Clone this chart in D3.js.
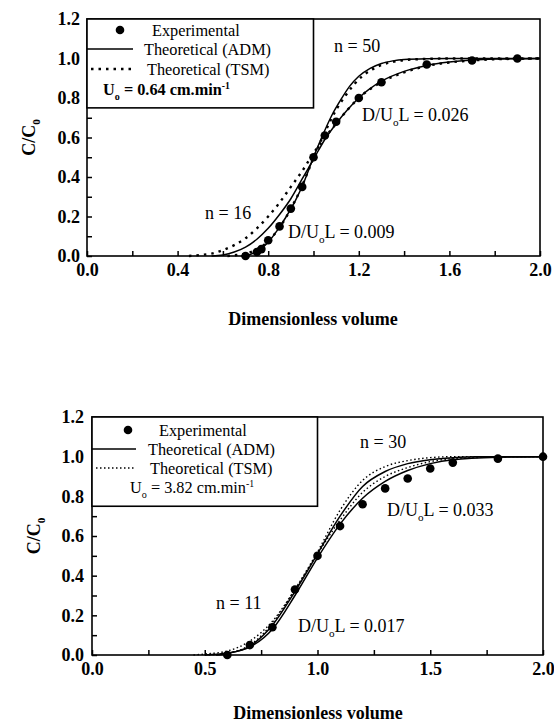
<!DOCTYPE html>
<html><head><meta charset="utf-8">
<script src="https://cdn.jsdelivr.net/npm/d3@7"></script>
<style>
html,body{margin:0;padding:0;background:#fff;}
svg{display:block;}
text{font-family:"Liberation Serif","Times New Roman",serif;fill:#000;}
</style></head>
<body><svg id="c" width="554" height="723"></svg>
<script>
// ---------- data: top panel (U0 = 0.64 cm/min) ----------
const topExpX = [0.70,0.75,0.77,0.80,0.85,0.90,0.95,1.00,1.05,1.10,1.20,1.30,1.50,1.70,1.90];
const topExpY = [0.00,0.02,0.035,0.08,0.15,0.24,0.35,0.50,0.61,0.68,0.80,0.88,0.97,0.99,1.00];
// ADM D/U0L = 0.026
const topAdmAX = [0.55,0.60,0.65,0.70,0.75,0.80,0.85,0.90,0.95,1.00,1.05,1.10,1.15,1.20,1.30,1.40,1.50,1.60,1.70,1.80,2.00];
const topAdmAY = [0.00,0.005,0.02,0.045,0.085,0.14,0.21,0.29,0.39,0.49,0.59,0.67,0.74,0.80,0.885,0.935,0.965,0.982,0.992,0.997,1.00];
// ADM D/U0L = 0.009
const topAdmBX = [0.68,0.72,0.76,0.80,0.84,0.88,0.92,0.96,1.00,1.04,1.08,1.12,1.16,1.20,1.25,1.30,1.35,1.40,1.50,1.60,2.00];
const topAdmBY = [0.00,0.008,0.03,0.07,0.13,0.20,0.28,0.38,0.50,0.61,0.71,0.79,0.86,0.91,0.95,0.975,0.988,0.995,0.999,1.00,1.00];
// TSM n = 16
const topTsmAX = [0.45,0.50,0.55,0.60,0.65,0.70,0.75,0.80,0.85,0.90,0.95,1.00,1.05,1.10,1.15,1.20,1.30,1.40,1.50,1.60,1.70,1.80,2.00];
const topTsmAY = [0.00,0.005,0.012,0.03,0.055,0.09,0.14,0.20,0.27,0.35,0.43,0.52,0.60,0.67,0.74,0.80,0.88,0.93,0.962,0.98,0.99,0.996,1.00];
// TSM n = 50
const topTsmBX = [0.62,0.66,0.70,0.74,0.78,0.82,0.86,0.90,0.94,0.98,1.02,1.06,1.10,1.14,1.18,1.22,1.26,1.30,1.35,1.40,1.50,1.60,2.00];
const topTsmBY = [0.00,0.005,0.012,0.028,0.055,0.10,0.16,0.24,0.33,0.44,0.55,0.65,0.74,0.81,0.87,0.915,0.945,0.967,0.983,0.992,0.998,1.00,1.00];

// ---------- data: bottom panel (U0 = 3.82 cm/min) ----------
const botExpX = [0.60,0.70,0.80,0.90,1.00,1.10,1.20,1.30,1.40,1.50,1.60,1.80,2.00];
const botExpY = [0.00,0.05,0.14,0.33,0.50,0.65,0.76,0.84,0.89,0.94,0.97,0.99,1.00];
// ADM D/U0L = 0.017
const botAdmAX = [0.55,0.60,0.70,0.80,0.90,1.00,1.10,1.20,1.30,1.40,1.50,1.60,1.70,2.00];
const botAdmAY = [0.00,0.008,0.045,0.15,0.32,0.51,0.70,0.85,0.925,0.965,0.985,0.995,1.00,1.00];
// ADM D/U0L = 0.033
const botAdmBX = [0.50,0.60,0.70,0.80,0.90,1.00,1.10,1.20,1.30,1.40,1.50,1.60,1.80,2.00];
const botAdmBY = [0.00,0.01,0.04,0.13,0.30,0.49,0.66,0.79,0.875,0.93,0.965,0.985,0.997,1.00];
// TSM n = 30
const botTsmAX = [0.50,0.60,0.70,0.80,0.90,1.00,1.10,1.20,1.30,1.40,1.50,1.60,2.00];
const botTsmAY = [0.00,0.01,0.05,0.16,0.33,0.52,0.73,0.88,0.95,0.98,0.995,1.00,1.00];
// TSM n = 11
const botTsmBX = [0.45,0.50,0.60,0.70,0.80,0.90,1.00,1.10,1.20,1.30,1.40,1.50,1.60,1.80,2.00];
const botTsmBY = [0.00,0.005,0.02,0.07,0.17,0.33,0.51,0.68,0.82,0.90,0.945,0.975,0.99,0.998,1.00];

// ---------- ticks ----------
const yTicks = [0,0.1,0.2,0.3,0.4,0.5,0.6,0.7,0.8,0.9,1.0,1.1,1.2];
const yLabels = [0,0.2,0.4,0.6,0.8,1.0,1.2];
const topXTicks = [0,0.2,0.4,0.6,0.8,1.0,1.2,1.4,1.6,1.8,2.0];
const topXLabels = [0,0.4,0.8,1.2,1.6,2.0];
const botXTicks = [0,0.25,0.5,0.75,1.0,1.25,1.5,1.75,2.0];
const botXLabels = [0,0.5,1.0,1.5,2.0];

const svg = d3.select("#c");
const zip = (xs, ys) => xs.map((x,i)=>[x, ys[i]]);

function rich(g, x, y, parts, opts) {
  const t = g.append("text").attr("x", x).attr("y", y)
    .attr("font-size", opts.size).attr("font-weight", opts.weight || "normal")
    .attr("text-anchor", opts.anchor || "start");
  if (opts.rotate) t.attr("transform", `rotate(-90,${x},${y})`);
  let shift = 0;
  parts.forEach(p => {
    const s = t.append("tspan").text(p.t);
    let target = 0;
    if (p.sub) { target = opts.size*0.3; s.attr("font-size", opts.size*0.62); }
    if (p.sup) { target = -opts.size*0.35; s.attr("font-size", opts.size*0.6); }
    if (target !== shift) { s.attr("dy", target - shift); shift = target; }
  });
  return t;
}

function panel(cfg) {
  const x = d3.scaleLinear().domain([0,2]).range([cfg.left, cfg.right]);
  const y = d3.scaleLinear().domain([0,1.2]).range([cfg.bottom, cfg.top]);
  const g = svg.append("g");

  // axes
  const xa = d3.axisBottom(x).tickValues(cfg.xTicks).tickSize(-5).tickSizeOuter(0).tickPadding(7)
    .tickFormat(d => cfg.xLabels.some(v=>Math.abs(v-d)<1e-9) ? d3.format(".1f")(d) : "");
  const gx = g.append("g").attr("transform", `translate(0,${cfg.bottom})`).call(xa);
  const ya = d3.axisLeft(y).tickValues(yTicks).tickSize(-5).tickSizeOuter(0).tickPadding(cfg.yPad)
    .tickFormat(d => yLabels.some(v=>Math.abs(v-d)<1e-9) ? d3.format(".1f")(d) : "");
  const gy = g.append("g").attr("transform", `translate(${cfg.left},0)`).call(ya);
  [gx, gy].forEach(a => {
    a.select(".domain").remove();
    a.selectAll("line").attr("stroke", "#000").attr("stroke-width", 1.5);
    a.selectAll("text").attr("font-size", 18).attr("font-weight", "bold")
      .attr("font-family", '"Liberation Serif","Times New Roman",serif').attr("fill", "#000");
  });

  // frame
  g.append("rect").attr("x", cfg.left).attr("y", cfg.top)
    .attr("width", cfg.right - cfg.left).attr("height", cfg.bottom - cfg.top)
    .attr("fill", "none").attr("stroke", "#000").attr("stroke-width", 1.6);

  const line = d3.line().x(d=>x(d[0])).y(d=>y(d[1])).curve(d3.curveMonotoneX);
  cfg.solid.forEach(s => g.append("path").attr("d", line(s)).attr("fill","none")
    .attr("stroke","#000").attr("stroke-width",1.5));
  cfg.dotted.forEach(s => g.append("path").attr("d", line(s)).attr("fill","none")
    .attr("stroke","#000").attr("stroke-width",cfg.dotW).attr("stroke-dasharray",cfg.dash));

  g.selectAll("circle.exp").data(cfg.exp).join("circle").attr("class","exp")
    .attr("cx", d=>x(d[0])).attr("cy", d=>y(d[1])).attr("r", 4.3).attr("fill","#000");

  // legend
  const lx0 = x(0), lx1 = x(1.0), ly0 = y(1.2), ly1 = y(0.75);
  g.append("rect").attr("x", lx0).attr("y", ly0).attr("width", lx1-lx0).attr("height", ly1-ly0)
    .attr("fill","#fff").attr("stroke","#000").attr("stroke-width",1.6);
  const L = cfg.legend;
  const fs = 16.3;
  g.append("circle").attr("cx", L.dotX).attr("cy", L.rows[0]-6).attr("r", 4.3).attr("fill","#000");
  rich(g, L.textX[0], L.rows[0], [{t:"Experimental"}], {size:fs});
  g.append("line").attr("x1", lx0).attr("x2", L.lineEnd).attr("y1", L.rows[1]-6).attr("y2", L.rows[1]-6)
    .attr("stroke","#000").attr("stroke-width",1.5);
  rich(g, L.textX[1], L.rows[1], [{t:"Theoretical (ADM)"}], {size:fs});
  g.append("line").attr("x1", lx0+4).attr("x2", L.lineEnd).attr("y1", L.rows[2]-6).attr("y2", L.rows[2]-6)
    .attr("stroke","#000").attr("stroke-width",cfg.dotW).attr("stroke-dasharray",cfg.dash);
  rich(g, L.textX[2], L.rows[2], [{t:"Theoretical (TSM)"}], {size:fs});
  rich(g, L.textX[3], L.rows[3], [{t:"U"},{t:"o",sub:true},{t:" = " + cfg.u0 + " cm.min"},{t:"-1",sup:true}],
    {size:fs, weight:cfg.u0Weight});

  // annotations
  cfg.notes.forEach(n => rich(g, n.x, n.y, n.parts, {size:18}));

  // axis titles
  rich(g, cfg.ylabX, (cfg.top+cfg.bottom)/2, [{t:"C/C"},{t:"0",sub:true}],
    {size:18, weight:"bold", anchor:"middle", rotate:true});
  rich(g, cfg.xTitleX, cfg.xTitleY, [{t:"Dimensionless volume"}], {size:18, weight:"bold", anchor:"middle"});
}

panel({
  left:87, right:540, top:19, bottom:256, yPad:7,
  xTicks: topXTicks, xLabels: topXLabels,
  exp: zip(topExpX, topExpY),
  solid: [zip(topAdmAX, topAdmAY), zip(topAdmBX, topAdmBY)],
  dotted: [zip(topTsmAX, topTsmAY), zip(topTsmBX, topTsmBY)],
  dotW: 2.4, dash: "2.5,5",
  u0: "0.64", u0Weight: "bold",
  legend: {dotX:120, lineEnd:133, textX:[152,144,147,103], rows:[36,55,75,95]},
  notes: [
    {x:334, y:52, parts:[{t:"n = 50"}]},
    {x:362, y:121, parts:[{t:"D/U"},{t:"o",sub:true},{t:"L = 0.026"}]},
    {x:205, y:219, parts:[{t:"n = 16"}]},
    {x:288, y:238, parts:[{t:"D/U"},{t:"o",sub:true},{t:"L = 0.009"}]}
  ],
  ylabX: 35, xTitleX: 313, xTitleY: 325
});

panel({
  left:92, right:543, top:417, bottom:655, yPad:8,
  xTicks: botXTicks, xLabels: botXLabels,
  exp: zip(botExpX, botExpY),
  solid: [zip(botAdmAX, botAdmAY), zip(botAdmBX, botAdmBY)],
  dotted: [zip(botTsmAX, botTsmAY), zip(botTsmBX, botTsmBY)],
  dotW: 1.4, dash: "1.5,2.5",
  u0: "3.82", u0Weight: "normal",
  legend: {dotX:128, lineEnd:136, textX:[159,148,150,130], rows:[436,455,474,493]},
  notes: [
    {x:360, y:448, parts:[{t:"n = 30"}]},
    {x:387, y:516, parts:[{t:"D/U"},{t:"o",sub:true},{t:"L = 0.033"}]},
    {x:216, y:609, parts:[{t:"n = 11"}]},
    {x:298, y:632, parts:[{t:"D/U"},{t:"o",sub:true},{t:"L = 0.017"}]}
  ],
  ylabX: 40, xTitleX: 318, xTitleY: 719
});
</script></body></html>
